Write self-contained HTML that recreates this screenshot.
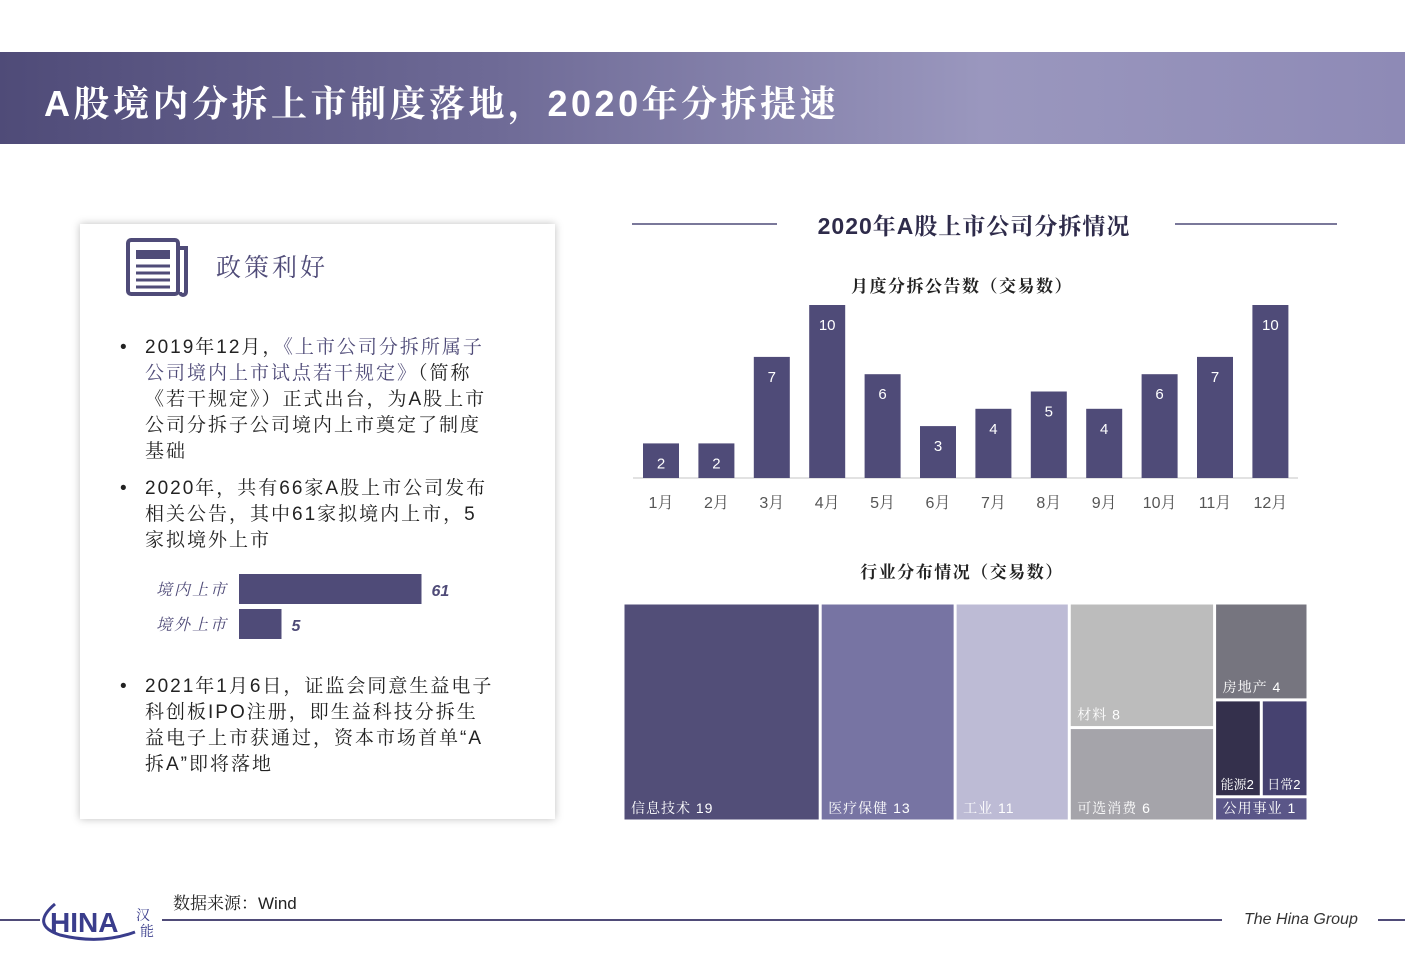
<!DOCTYPE html>
<html><head><meta charset="utf-8"><style>
body{margin:0;width:1405px;height:973px;background:#fff;position:relative;overflow:hidden;font-family:"Liberation Sans","Noto Serif CJK SC","Noto Sans CJK SC",sans-serif;}
.abs{position:absolute;}
#banner{left:0;top:52px;width:1405px;height:92px;background:linear-gradient(90deg,#4f4b78 0%,#6e6a96 35%,#9a97be 70%,#8e8ab6 100%);}
#banner h1{margin:0;position:absolute;left:44px;top:24px;color:#fff;font-size:36px;font-weight:bold;font-family:"Liberation Sans","Noto Serif CJK SC",sans-serif;letter-spacing:3.5px}
#card{left:80px;top:224px;width:475px;height:595px;background:#fff;box-shadow:0 0 8px rgba(0,0,0,.25);}
.txt{font-size:19px;color:#222;line-height:26px;letter-spacing:2px}
.hl{color:#4f4b78}
svg text{font-family:"Liberation Sans","Noto Serif CJK SC",sans-serif}
</style></head><body>
<div id="banner" class="abs"><h1>A股境内分拆上市制度落地，2020年分拆提速</h1></div>

<div id="card" class="abs">
 <svg class="abs" style="left:46px;top:14px" width="66" height="60">
  <rect x="2" y="2" width="50" height="54" rx="3" fill="none" stroke="#4f4b78" stroke-width="4"/>
  <path d="M52 10 H60 V54 a3 3 0 0 1 -6 0" fill="none" stroke="#4f4b78" stroke-width="4"/>
  <rect x="10" y="12" width="34" height="9" fill="#4f4b78"/>
  <g stroke="#4f4b78" stroke-width="3"><line x1="10" y1="28" x2="44" y2="28"/><line x1="10" y1="35" x2="44" y2="35"/><line x1="10" y1="42" x2="44" y2="42"/><line x1="10" y1="49" x2="44" y2="49"/></g>
 </svg>
 <div class="abs" style="left:136px;top:24px;font-size:25px;color:#4f4b78;letter-spacing:3px">政策利好</div>
 <div class="abs txt" style="left:40px;top:111px;width:375px"><span style="position:absolute;left:0">•</span><div style="margin-left:25px">2019年12月，<span class="hl">《上市公司分拆所属子公司境内上市试点若干规定》</span>（简称《若干规定》）正式出台，为A股上市公司分拆子公司境内上市奠定了制度基础</div></div>
 <div class="abs txt" style="left:40px;top:252px;width:375px"><span style="position:absolute;left:0">•</span><div style="margin-left:25px">2020年，共有66家A股上市公司发布相关公告，其中61家拟境内上市，5家拟境外上市</div></div>
 <svg class="abs" style="left:60px;top:345px" width="340" height="75">
  <g id="lb"></g>
 </svg>
 <div class="abs txt" style="left:40px;top:450px;width:375px"><span style="position:absolute;left:0">•</span><div style="margin-left:25px">2021年1月6日，证监会同意生益电子科创板IPO注册，即生益科技分拆生益电子上市获通过，资本市场首单“A拆A”即将落地</div></div>
</div>

<svg class="abs" style="left:600px;top:200px" width="760" height="640">
 <line x1="32" y1="24" x2="177" y2="24" stroke="#4f4b78" stroke-width="1.5"/>
 <line x1="575" y1="24" x2="737" y2="24" stroke="#4f4b78" stroke-width="1.5"/>
 <text x="374" y="34" text-anchor="middle" font-size="23" font-weight="bold" fill="#2e2b4a" letter-spacing="1">2020年A股上市公司分拆情况</text>
 <text x="362" y="92" text-anchor="middle" font-size="17" font-weight="bold" fill="#222" letter-spacing="1.5">月度分拆公告数（交易数）</text>
 <g id="bars"></g>
 <text x="362" y="378" text-anchor="middle" font-size="17" font-weight="bold" fill="#222" letter-spacing="1.5">行业分布情况（交易数）</text>
 <g id="tree"></g>
</svg>

<svg class="abs" style="left:0;top:880px" width="1405" height="80">
 <line x1="0" y1="40" x2="40" y2="40" stroke="#4f4b78" stroke-width="2"/>
 <line x1="162" y1="40" x2="1222" y2="40" stroke="#4f4b78" stroke-width="2"/>
 <line x1="1378" y1="40" x2="1405" y2="40" stroke="#4f4b78" stroke-width="2"/>
 <path d="M55 24 Q30 45 60 55 Q100 65 135 52" fill="none" stroke="#3a3d8c" stroke-width="3"/>
 <text x="50" y="52" font-size="28" font-weight="bold" fill="#3a3d8c">HINA</text>
 <text x="136" y="40" font-size="14" fill="#3a3d8c">汉</text><text x="140" y="56" font-size="14" fill="#3a3d8c">能</text>
 <text x="173" y="29" font-size="17" fill="#222">数据来源：Wind</text>
 <text x="1244" y="44" font-size="16" font-style="italic" fill="#333">The Hina Group</text>
</svg>

<script>
const NS='http://www.w3.org/2000/svg';
function mk(p,t,a){const e=document.createElementNS(NS,t);for(const k in a)e.setAttribute(k,a[k]);p.appendChild(e);return e;}
const months=['1月','2月','3月','4月','5月','6月','7月','8月','9月','10月','11月','12月'];
const monthValues=[2,2,7,10,6,3,4,5,4,6,7,10];
const bars=document.getElementById('bars');
const x0=61,step=55.4,base=278,unit=17.3,bw=36;
mk(bars,'line',{x1:33,y1:base,x2:698,y2:base,stroke:'#d9d9d9','stroke-width':1.5});
months.forEach((m,i)=>{
 const cx=x0+i*step,h=monthValues[i]*unit;
 const r=mk(bars,'rect',{x:cx-bw/2,y:base-h,width:bw,height:h,fill:'#4f4b78'});
 
 
 const v=mk(bars,'text',{x:cx,y:base-h+25,'text-anchor':'middle','font-size':15,fill:'#fff'});v.textContent=monthValues[i];
 const l=mk(bars,'text',{x:cx,y:base+30,'text-anchor':'middle','font-size':16,fill:'#555'});l.textContent=m;
 
 
});
const listCats=['境内上市','境外上市'];
const listVals=[61,5];
const lb=document.getElementById('lb');
listCats.forEach((c,i)=>{
 const y=5+i*35,w=30+listVals[i]*2.5;
 const t=mk(lb,'text',{x:16,y:y+21,'font-size':16,'font-style':'italic',fill:'#4f4b78','letter-spacing':2});t.textContent=c;
 const r=mk(lb,'rect',{x:99,y:y,width:w,height:30,fill:'#4f4b78'});
 
 
 const v=mk(lb,'text',{x:99+w+10,y:y+22,'font-size':16,'font-weight':'bold','font-style':'italic',fill:'#4f4b78'});v.textContent=listVals[i];
});
const sectors=['信息技术','医疗保健','工业','材料','可选消费','房地产','能源','日常消费','公用事业'];
const sectorValues=[19,13,11,8,6,4,2,2,1];
const colors=['#524e78','#7774a3','#bdbbd5','#bcbcbc','#a5a4aa','#76757f','#34304c','#464270','#5a5688'];
const tree=document.getElementById('tree');
const TX=23,TY=403,TW=685,TH=218,G=3;
const total=sectorValues.reduce((a,b)=>a+b,0);
let cx=TX;const rects=[];
const colW=v=>TW*v/total;
function col(idx){const s=idx.reduce((a,i)=>a+sectorValues[i],0);const w=colW(s);const x=cx;cx+=w;return {x,w,s};}
let c=col([0]);rects[0]=[c.x,TY,c.w,TH];
c=col([1]);rects[1]=[c.x,TY,c.w,TH];
c=col([2]);rects[2]=[c.x,TY,c.w,TH];
c=col([3,4]);{const h=TH*sectorValues[3]/c.s;rects[3]=[c.x,TY,c.w,h];rects[4]=[c.x,TY+h,c.w,TH-h];}
c=col([5,6,7,8]);{const h5=TH*sectorValues[5]/c.s,h8=TH*sectorValues[8]/c.s;rects[5]=[c.x,TY,c.w,h5];
 const mh=TH-h5-h8,w6=c.w*sectorValues[6]/(sectorValues[6]+sectorValues[7]);
 rects[6]=[c.x,TY+h5,w6,mh];rects[7]=[c.x+w6,TY+h5,c.w-w6,mh];rects[8]=[c.x,TY+TH-h8,c.w,h8];}
sectors.forEach((s,i)=>{
 const [x,y,w,h]=rects[i];
 const r=mk(tree,'rect',{x:x+G/2,y:y+G/2,width:w-G,height:h-G,fill:colors[i]});
 
 
 const t=mk(tree,'text',{x:x+8,y:y+h-8,'font-size':14,fill:'#fff','letter-spacing':1});
 if(i===6||i===7){t.textContent=s.slice(0,2)+sectorValues[i];t.setAttribute('font-size',13);t.setAttribute('letter-spacing',0);t.setAttribute('x',x+6);}
 else t.textContent=s+'  '+sectorValues[i];
});
</script>
</body></html>
